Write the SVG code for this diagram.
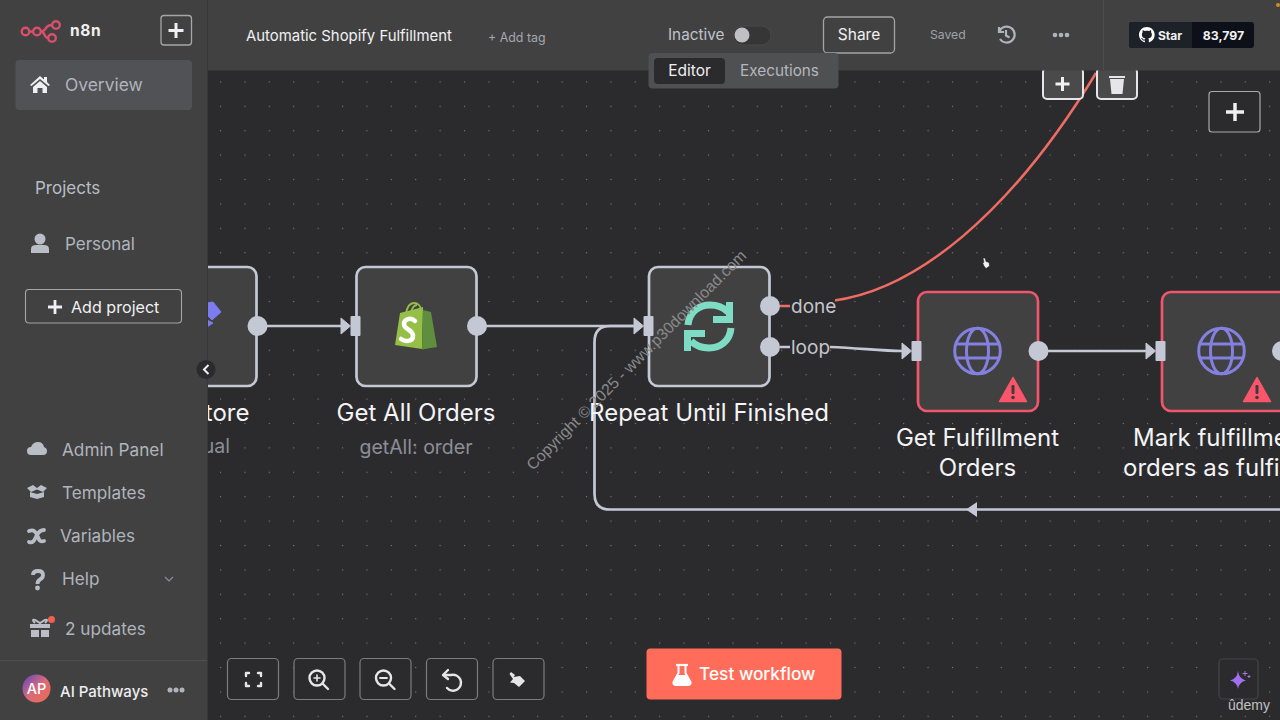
<svg xmlns="http://www.w3.org/2000/svg" width="1280" height="720" viewBox="0 0 1280 720">
<style>
text{font-family:Inter,"Liberation Sans",sans-serif}
.side{font-size:17.2px;fill:#b0b4bd}
.nav{fill:#b9bdc6}
.lab{font-size:24px;fill:#f4f4f6;text-anchor:middle}
.sub{font-size:19.5px;fill:#8c8f97;text-anchor:middle}
.node{fill:#414141;stroke:#c4c8d4;stroke-width:2.700}
.err{fill:#414141;stroke:#f0566c;stroke-width:2.700}
.port{fill:#c4c8d4}
.wire{fill:none;stroke:#c4c8d4;stroke-width:2.700}
.tool{fill:#2b2b2d;stroke:#7c7c7e;stroke-width:1.200}
.ico{fill:none;stroke:#e6e6e8;stroke-width:2.400;stroke-linecap:round;stroke-linejoin:round}
.globe{fill:none;stroke:#8380e0;stroke-width:3}
</style>
<defs>
<pattern id="dots" x="-11.350" y="-3.550" width="24.4" height="24.4" patternUnits="userSpaceOnUse"><rect x="11.700" y="11.700" width="1.100" height="1.100" fill="#808082"/></pattern>
<g id="globe"><circle r="22.800" class="globe"/><ellipse rx="11" ry="22.800" class="globe"/><path d="M-21.500-7H21.500M-21.500 7H21.500" class="globe"/></g>
<g id="warn"><path d="M0-12.500L13.500 11.500H-13.500Z" fill="#f9566b" stroke="#f9566b" stroke-width="1.500" stroke-linejoin="round"/><rect x="-1.500" y="-5" width="3" height="9" rx="1.200" fill="#3c3c3c"/><circle cy="7.500" r="1.800" fill="#3c3c3c"/></g>
<g id="inport"><path d="M-9.500-8L0 0L-9.500 8Z" fill="#c4c8d4" stroke="#c4c8d4" stroke-width="1" stroke-linejoin="round"/><rect x="0" y="-10" width="10" height="20" rx="1" fill="#c4c8d4"/></g>
</defs>

<rect width="1280" height="720" fill="#2b2b2d"/>
<rect width="1280" height="720" fill="url(#dots)"/>

<g id="connectors">
<path class="wire" d="M258 326H342"/>
<path class="wire" d="M477 326H635"/>
<path class="wire" d="M1280 509.500H610Q594.500 509.500 594.500 494V342Q594.500 326 610 326H635"/>
<path d="M966 509.500L977 502V517Z" fill="#c4c8d4"/>
<path d="M780 306H800Q815 306 833 300.700C915 290 1010 215 1096 73" fill="none" stroke="#ee6c64" stroke-width="2.500"/>
<path class="wire" d="M780 347H830C860 348 880 351 903 351"/>
<path class="wire" d="M1039 351H1147"/>
</g>

<g id="node-store"><rect class="node" x="160" y="267" width="96.500" height="119" rx="9"/><path d="M207 303L213 302L221 312L212 320L207 315ZM207 320L213 323L207 327Z" fill="#7a7cf0" stroke="#7a7cf0" stroke-linejoin="round"/><circle class="port" cx="257.500" cy="326" r="10"/><text class="lab" x="249.500" y="421" style="text-anchor:end">tore</text><text class="sub" x="230" y="453" style="text-anchor:end">ual</text></g>
<g id="node-get-all-orders"><rect class="node" x="356.500" y="267" width="120" height="119" rx="9"/>
<path d="M400 313L423 307L422 349L395 345Z" fill="#95bf47"/><path d="M423 310L431 312L437 347L422 349.500Z" fill="#5e8e3e"/><path d="M406 314C407 307 410 303 414 303C418 303 421 306 421 311M411 313C412 308 414 305 417 305" fill="none" stroke="#95bf47" stroke-width="1.800"/>
<path d="M415 321C411 317 404 319 404 324C404 330 413 329 413 336C413 342 405 342 401 339" fill="none" stroke="#fff" stroke-width="4.500" stroke-linecap="round"/>
<use href="#inport" x="350.500" y="326"/><circle class="port" cx="477" cy="326" r="10"/><text class="lab" x="416" y="421">Get All Orders</text><text class="sub" x="416" y="454">getAll: order</text></g>
<g id="node-repeat"><rect class="node" x="649" y="267" width="120.500" height="119" rx="9"/>
<path d="M688 325C689 312 699 305 710 305C717 305 723 307 728 312" fill="none" stroke="#7fdcc4" stroke-width="7"/><path d="M733 302V323H713V316H726V302Z" fill="#7fdcc4"/>
<path d="M731 328C730 341 720 348 709 348C702 348 696 346 691 341" fill="none" stroke="#7fdcc4" stroke-width="7"/><path d="M684 351V330H705V337H691V351Z" fill="#7fdcc4"/>
<use href="#inport" x="643.500" y="326"/><circle class="port" cx="770" cy="306" r="10"/><circle class="port" cx="770" cy="347" r="10"/><text class="lab" x="709" y="421">Repeat Until Finished</text></g>
<g id="node-get-fulfillment"><rect class="err" x="918" y="292" width="120" height="119" rx="9"/><use href="#globe" x="977.500" y="351"/><use href="#warn" x="1013" y="390"/><use href="#inport" x="911.500" y="351"/><circle class="port" cx="1038.500" cy="351" r="10"/><text class="lab" x="977.500" y="446">Get Fulfillment</text><text class="lab" x="977.500" y="476">Orders</text></g>
<g id="node-mark-fulfillment"><rect class="err" x="1162" y="292" width="130" height="119" rx="9"/><use href="#globe" x="1221.500" y="351"/><use href="#warn" x="1257" y="390"/><use href="#inport" x="1155.500" y="351"/><circle class="port" cx="1282" cy="351" r="10"/><text x="1133" y="446" style="font-size:24px;fill:#f4f4f6">Mark fulfillme</text><text x="1123" y="476" style="font-size:24px;fill:#f4f4f6">orders as fulfi</text></g>

<g id="edge-labels"><rect x="790" y="296" width="45" height="22" fill="#2b2b2d"/><rect x="790" y="337" width="40" height="22" fill="#2b2b2d"/><text x="791" y="313" font-size="19" fill="#c4c6cc">done</text><text x="791" y="354" font-size="19" fill="#c4c6cc">loop</text></g>
<text transform="translate(533 471) rotate(-45)" fill="#8a8a8c" style="font-family:'Liberation Sans',sans-serif;font-size:15.800px">Copyright © 2025 - www.p30download.com</text>

<g id="edge-actions"><rect x="1043" y="68" width="40" height="31" rx="4" fill="#4a4a4a" stroke="#e6e6ea" stroke-width="2"/><path d="M1062.500 77V91M1055.500 84H1069.500" stroke="#f0f0f2" stroke-width="3"/>
<rect x="1097" y="68" width="40" height="31" rx="4" fill="#4a4a4a" stroke="#e6e6ea" stroke-width="2"/><path d="M1110 79H1124L1122.500 94H1111.500ZM1109 76H1125V78H1109Z" fill="#e6e6ea"/></g>
<g id="add-node"><rect x="1209" y="91.500" width="51" height="40.500" rx="3" fill="#2b2b2d" stroke="#a8a8aa" stroke-width="1.200"/><path d="M1235 103V121M1226 112H1244" stroke="#f0f0f2" stroke-width="3.500"/></g>
<path id="cursor" d="M983 258L985 258L986 261.500L989 262.500L989.500 266L986 268.500L984 266L982.500 262.500L984 262.500Z" fill="#f4f4f4" stroke="#222" stroke-width="0.500"/>

<g id="header"><rect x="207" width="1073" height="70.500" fill="#414141"/><path d="M1103.500 0V70" stroke="#4c4c4c"/>
<text x="246" y="41" font-size="14.900" fill="#f0f0f2">Automatic Shopify Fulfillment</text>
<text x="488" y="41.500" font-size="12.400" fill="#a4a7ae">+ Add tag</text>
<text x="668" y="40" font-size="15.300" fill="#c0c3ca">Inactive</text>
<rect x="733" y="26" width="38" height="19" rx="9.500" fill="#363636" stroke="#4a4a4a"/><circle cx="742" cy="35" r="7.500" fill="#c0c0c4"/>
<rect x="823.500" y="17" width="71" height="36" rx="4" fill="#414141" stroke="#a4a4a6" stroke-width="1.300"/><text x="859" y="40" font-size="15.500" fill="#f0f0f2" text-anchor="middle">Share</text>
<text x="930" y="39" font-size="12.200" fill="#a0a2a8">Saved</text>
<path d="M999.500 31A8 8 0 1 1 1000 39M999 27V32H1004M1006 30V35.500L1009.500 37.500" fill="none" stroke="#b0b3ba" stroke-width="2.200"/>
<circle cx="1055" cy="35" r="2.300" fill="#b0b3ba"/><circle cx="1061" cy="35" r="2.300" fill="#b0b3ba"/><circle cx="1067" cy="35" r="2.300" fill="#b0b3ba"/>
<rect x="1129" y="22" width="125" height="26" rx="3" fill="#0d1018"/><path d="M1133 22H1192V48H1133Q1129 48 1129 44V26Q1129 22 1133 22Z" fill="#1d2229"/>
<path transform="translate(1139 27) scale(0.98)" fill="#fff" d="M8 0C3.58 0 0 3.58 0 8c0 3.54 2.29 6.53 5.470 7.590.4.070.55-.17.55-.38 0-.19-.01-.82-.01-1.490-2.010.37-2.530-.49-2.690-.94-.09-.23-.48-.94-.82-1.130-.28-.15-.68-.52-.01-.53.63-.01 1.080.58 1.230.82.72 1.210 1.870.87 2.330.66.07-.52.28-.87.51-1.070-1.780-.2-3.640-.89-3.640-3.950 0-.87.31-1.590.82-2.150-.08-.2-.36-1.020.08-2.120 0 0 .67-.21 2.200.82.64-.18 1.320-.27 2-.27.68 0 1.360.09 2 .27 1.530-1.040 2.200-.82 2.200-.82.44 1.100.16 1.920.08 2.120.51.56.82 1.270.82 2.150 0 3.070-1.870 3.750-3.650 3.950.29.25.54.73.54 1.480 0 1.070-.01 1.930-.01 2.200 0 .21.15.46.55.38A8.013 8.013 0 0016 8c0-4.420-3.580-8-8-8z"/>
<text x="1158" y="39.500" font-size="12" font-weight="700" fill="#f0f0f2">Star</text><text x="1223.500" y="39.500" font-size="12.300" font-weight="700" fill="#f0f0f2" text-anchor="middle">83,797</text>
<circle cx="1278" cy="5" r="2" fill="#d08a2a"/></g>

<g id="tabs"><rect x="648.500" y="53" width="190" height="35.500" rx="4" fill="#4f5052"/><rect x="654" y="58" width="71" height="26" rx="4" fill="#2b2b2d"/><text x="689.500" y="76" font-size="15.500" fill="#f0f0f2" text-anchor="middle">Editor</text><text x="779.500" y="76" font-size="15.300" fill="#b4b7bd" text-anchor="middle">Executions</text></g>

<g id="sidebar"><rect width="207" height="720" fill="#414141"/><path d="M207.500 0V720" stroke="#383838"/>
<g fill="none" stroke="#d94f6c" stroke-width="2.400"><circle cx="25.500" cy="31.500" r="3.800"/><circle cx="37" cy="31.500" r="3.800"/><circle cx="56" cy="25" r="3.800"/><circle cx="52" cy="38" r="3.800"/><path d="M29 31.500H33M41 31.500C47 31.500 44 25 52 25M41 31.500C45 31.500 44 38 48 38"/></g>
<text x="70" y="36" font-size="15.500" font-weight="700" letter-spacing="0.600" fill="#f0f0f2">n8n</text>
<rect x="161" y="15.500" width="30.500" height="29.500" rx="3" fill="#414141" stroke="#a6a6a8" stroke-width="1.300"/><path d="M176 23V38M168.500 30.500H183.500" stroke="#f0f0f2" stroke-width="3"/>
<rect x="15.500" y="60" width="176.500" height="50" rx="4" fill="#505255"/>
<path d="M30 85L40 76L44 79.500V77H47V82L50 85L48.500 86L40 79L31.500 86ZM33 87L40 81L47 87V93H42.500V88H37.500V93H33Z" fill="#f0f0f2"/>
<text x="65" y="91" class="side" style="font-size:17.400px">Overview</text>
<text x="35" y="194" font-size="17" class="nav">Projects</text>
<circle cx="40" cy="239" r="5.500" class="nav"/><path d="M31 253V249Q31 245 36 245H44Q49 245 49 249V253Z" class="nav"/>
<text x="65" y="250" class="side" style="font-size:17px">Personal</text>
<rect x="25.500" y="289.500" width="156" height="33.500" rx="3.500" fill="#414141" stroke="#a6a6a8" stroke-width="1.100"/><path d="M55 300V314M48 307H62" stroke="#f0f0f2" stroke-width="2.800"/><text x="71" y="312.500" font-size="16.100" fill="#f0f0f2">Add project</text>
<g class="nav"><path d="M31 455Q27 455 27 451Q27 447 31 447Q33 442 38 442Q43 442 44 447Q47 448 47 451Q47 455 43 455Z"/>
<path d="M27 488L33 485L37 488L41 485L47 488L43 492L37 489.500L31 492ZM30 492L37 494L44 492V497L37 499L30 497Z"/>
<circle cx="37.500" cy="588" r="2.400"/>
<path d="M30 624H50V628H30ZM31 630H39V637H31ZM41 630H49V637H41Z"/></g>
<path d="M29 531C34 529 36 532 38 537C39 541 41 542 44 541M29 542C34 544 35 538 37 535C39 531 41 530 44 530" fill="none" stroke="#b9bdc6" stroke-width="3.800" stroke-linecap="round"/>
<path d="M33 575Q33 571 38 571Q43 571 43 575Q43 578 40 579.500Q37.500 581 37.500 584" fill="none" stroke="#b9bdc6" stroke-width="3.800"/>
<path d="M35 623Q31 619 35 620L40 623L45 620Q49 619 45 623" fill="none" stroke="#b9bdc6" stroke-width="2"/><circle cx="51.500" cy="619.500" r="3.500" fill="#f2604f"/>
<text x="62" y="456" class="side">Admin Panel</text><text x="62" y="499" class="side">Templates</text><text x="60" y="542" class="side">Variables</text><text x="62" y="585" class="side">Help</text>
<path d="M165 577L169 581L173 577" fill="none" stroke="#8c8f96" stroke-width="1.200"/>
<text x="65" y="635" class="side">2 updates</text>
<path d="M0 660.500H207" stroke="#4e4e4e"/>
<defs><linearGradient id="av" x1="0" y1="0" x2="1" y2="1"><stop offset="0" stop-color="#5a45c8"/><stop offset="0.500" stop-color="#d86a78"/><stop offset="1" stop-color="#f06a50"/></linearGradient></defs>
<circle cx="36.500" cy="688.500" r="14" fill="url(#av)"/><text x="36.500" y="694" font-size="14.500" font-weight="500" fill="#fff" text-anchor="middle">AP</text>
<text x="60" y="697" font-size="15" font-weight="500" fill="#eeeef0">AI Pathways</text>
<circle cx="170" cy="690" r="2.500" fill="#b0b3ba"/><circle cx="176" cy="690" r="2.500" fill="#b0b3ba"/><circle cx="182" cy="690" r="2.500" fill="#b0b3ba"/></g>

<g id="collapse"><circle cx="206" cy="369.500" r="9.500" fill="#2b2b2d"/><path d="M208.500 365L204 369.500L208.500 374" fill="none" stroke="#f0f0f2" stroke-width="2"/></g>

<g id="toolbar"><rect class="tool" x="227.500" y="658.500" width="51" height="41" rx="4"/><path class="ico" d="M246 676V673H249M258 673H261V676M261 683V686H258M249 686H246V683"/>
<rect class="tool" x="294" y="658.500" width="51" height="41" rx="4"/><circle class="ico" cx="317" cy="678" r="7.500"/><path class="ico" d="M323 684L328 689"/><path class="ico" d="M317 675V681M314 678H320" style="stroke-width:1.600"/>
<rect class="tool" x="360" y="658.500" width="51" height="41" rx="4"/><circle class="ico" cx="383.500" cy="678" r="7.500"/><path class="ico" d="M389.500 684L394.500 689"/><path class="ico" d="M380 678H387" style="stroke-width:1.800"/>
<rect class="tool" x="426.500" y="658.500" width="51" height="41" rx="4"/><path class="ico" d="M444 675H451A8 8 0 1 1 447 688"/><path class="ico" d="M448 670L443 675L448 679"/>
<rect class="tool" x="493" y="658.500" width="51" height="41" rx="4"/><path d="M511 672L515 675L513.500 677L520 676L525 681L519 687L514 683L510 682.500L513 679L509.500 674Z" fill="#e6e6e8"/></g>

<g id="test-workflow"><rect x="646.500" y="648.500" width="195" height="51" rx="4" fill="#ff6d5a"/><path d="M676 665H688" stroke="#fff" stroke-width="2.200"/><path d="M678.500 665V673L673.500 682Q673 685 676 685H688Q691 685 690.500 682L685.500 673V665" fill="none" stroke="#fff" stroke-width="2"/><path d="M676.500 675H687.500L690 683Q690 685 688 685H676Q674 685 674 683Z" fill="#fff"/><text x="699" y="680" font-size="17.300" font-weight="500" fill="#fff">Test workflow</text></g>
<g id="ask-ai"><rect x="1219" y="659" width="39" height="40" rx="4" fill="#2b2b2d" stroke="#454548" stroke-width="1.200"/><path d="M1238 671Q1239 679 1246 680.500Q1239 682 1238 689Q1237 682 1230 680.500Q1237 679 1238 671Z" fill="#a070f0"/><path d="M1245 671V676M1242.500 673.500H1247.500M1249 675V678M1247.500 676.500H1250.500" stroke="#b070e0" stroke-width="1"/></g>
<text x="1228" y="710" font-size="14" fill="#c0c0c2" style="font-family:'Liberation Sans',sans-serif">ûdemy</text>
</svg>
